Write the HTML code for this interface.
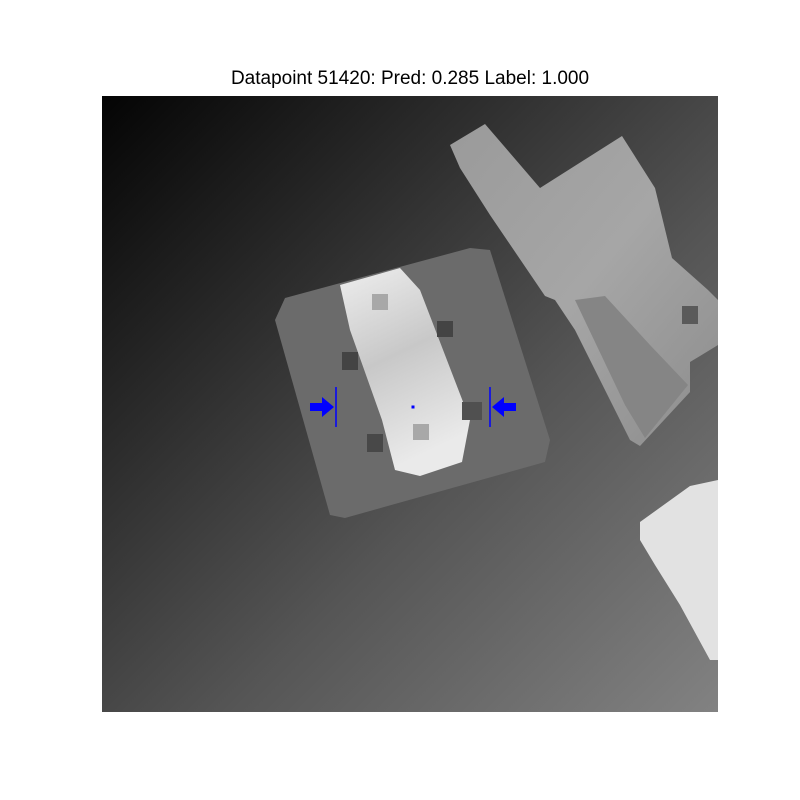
<!DOCTYPE html>
<html><head><meta charset="utf-8">
<style>
html,body{margin:0;padding:0;background:#fff;width:800px;height:800px;overflow:hidden}
#title{position:absolute;top:68px;left:0;width:820px;text-align:center;font-family:"Liberation Sans",sans-serif;font-size:19px;color:#000}
svg{position:absolute;left:0;top:0}
</style></head><body>
<div id="title">Datapoint 51420: Pred: 0.285 Label: 1.000</div>
<svg id="chart" width="800" height="800">
<defs>
<linearGradient id="bg" x1="0" y1="0" x2="1" y2="1">
<stop offset="0" stop-color="#040404"/><stop offset="0.3" stop-color="#2c2c2c"/><stop offset="0.6" stop-color="#555"/><stop offset="1" stop-color="#828282"/>
</linearGradient>
<linearGradient id="wb" x1="0" y1="0" x2="0.3" y2="1">
<stop offset="0" stop-color="#eeeeee"/><stop offset="0.5" stop-color="#c8c8c8"/><stop offset="1" stop-color="#eaeaea"/>
</linearGradient>
<linearGradient id="ur" x1="0" y1="0" x2="1" y2="1">
<stop offset="0" stop-color="#9a9a9a"/><stop offset="0.5" stop-color="#a6a6a6"/><stop offset="1" stop-color="#8c8c8c"/>
</linearGradient>
<clipPath id="clip"><rect x="102" y="96" width="616" height="616"/></clipPath>
</defs>
<g clip-path="url(#clip)">
<rect x="102" y="96" width="616" height="616" fill="url(#bg)"/>
<polygon fill="url(#ur)" points="450,145 485,124 540,188 622,136 655,188 672,258 708,290 718,300 718,345 700,356 690,362 690,392 640,446 630,440 575,330 555,300 545,296 490,215 460,168"/>
<polygon fill="#858585" points="575,300 605,296 650,345 688,385 645,438 625,405"/>
<polygon fill="#6b6b6b" points="285,298 470,248 490,250 550,440 545,462 345,518 330,515 275,320"/>
<polygon fill="url(#wb)" points="340,285 400,268 420,290 470,420 462,462 420,476 395,470 382,420 350,330"/>
<polygon fill="#e2e2e2" points="640,522 690,486 718,480 718,660 710,660 680,605 655,565 640,540"/>
<rect x="372" y="294" width="16" height="16" fill="#a8a8a8"/>
<rect x="437" y="321" width="16" height="16" fill="#444"/>
<rect x="342" y="352" width="16" height="18" fill="#444"/>
<rect x="367" y="434" width="16" height="18" fill="#484848"/>
<rect x="462" y="402" width="20" height="18" fill="#505050"/>
<rect x="413" y="424" width="16" height="16" fill="#a8a8a8"/>
<rect x="682" y="306" width="16" height="18" fill="#5a5a5a"/>
</g>
<g id="grasp"></g>
</svg>
<script>
const graspCenter = [413, 407];
const graspBarsX = [336, 490];
const graspBarHalf = 20;
const arrowDirs = [1, -1];
const ns = "http://www.w3.org/2000/svg";
const g = document.getElementById('grasp');
graspBarsX.forEach((x, i) => {
  const l = document.createElementNS(ns, 'line');
  
  
  l.setAttribute('x1', x); l.setAttribute('x2', x);
  l.setAttribute('y1', graspCenter[1] - graspBarHalf); l.setAttribute('y2', graspCenter[1] + graspBarHalf);
  l.setAttribute('stroke', '#0000ff'); l.setAttribute('stroke-width', '1.5');
  g.appendChild(l);
  const d = arrowDirs[i], y = graspCenter[1];
  const tip = x - d * 2, base = x - d * 14, tail = x - d * 26;
  const p = document.createElementNS(ns, 'polygon');
  
  
  p.setAttribute('points', `${tail},${y-4} ${base},${y-4} ${base},${y-10} ${tip},${y} ${base},${y+10} ${base},${y+4} ${tail},${y+4}`);
  p.setAttribute('fill', '#0000ff');
  g.appendChild(p);
});
const c = document.createElementNS(ns, 'rect');


c.setAttribute('x', graspCenter[0] - 1.5); c.setAttribute('y', graspCenter[1] - 1.5);
c.setAttribute('width', 3); c.setAttribute('height', 3); c.setAttribute('fill', '#0000ff');
g.appendChild(c);
</script>
</body></html>
